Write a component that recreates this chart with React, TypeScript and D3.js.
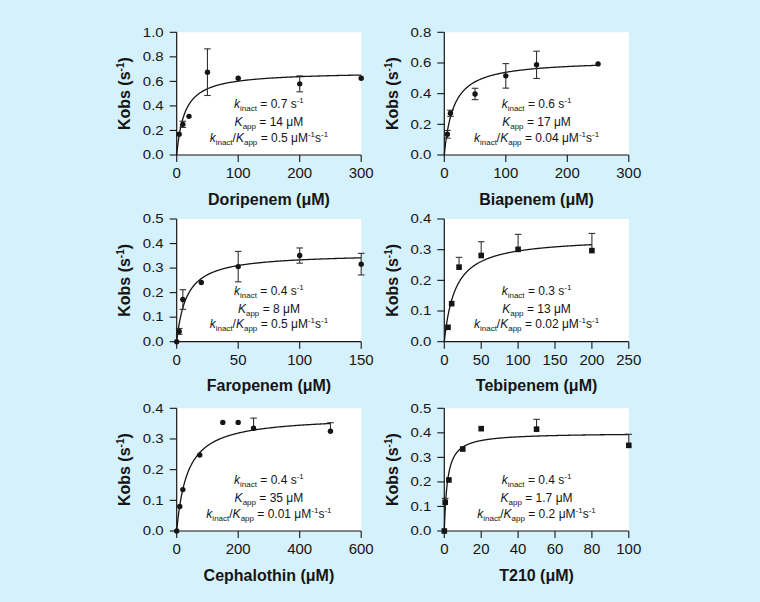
import React from "react";
import * as d3 from "d3";

// ---- data ----
const drugs = ["Doripenem", "Biapenem", "Faropenem", "Tebipenem", "Cephalothin", "T210"];

const doriX = [4, 10, 20, 50, 100, 200, 300];
const doriY = [0.17, 0.25, 0.315, 0.675, 0.625, 0.58, 0.625];
const doriErr = [0, 0.025, 0, 0.19, 0, 0.065, 0];

const biaX = [5, 10, 50, 100, 150, 250];
const biaY = [0.135, 0.272, 0.398, 0.516, 0.588, 0.594];
const biaErr = [0.025, 0.02, 0.037, 0.08, 0.089, 0];

const faroX = [0, 2, 5, 20, 50, 100, 150];
const faroY = [0, 0.042, 0.172, 0.241, 0.306, 0.351, 0.316];
const faroErr = [0, 0.012, 0.04, 0, 0.062, 0.031, 0.044];

const tebiX = [5, 10, 20, 50, 100, 200];
const tebiY = [0.047, 0.124, 0.243, 0.281, 0.301, 0.297];
const tebiErr = [0, 0, 0.032, 0.045, 0.049, 0.056];

const cephX = [0, 10, 20, 75, 150, 200, 250, 500];
const cephY = [0, 0.08, 0.135, 0.248, 0.354, 0.354, 0.335, 0.325];
const cephErr = [0, 0, 0, 0, 0, 0, 0.033, 0.028];

const t210X = [0, 0.5, 2.5, 10, 20, 50, 100];
const t210Y = [0, 0.117, 0.208, 0.334, 0.417, 0.415, 0.349];
const t210Err = [0, 0.016, 0, 0, 0, 0.04, 0.045];

// fitted hyperbola parameters (kinact, Kapp) as drawn
const fitK = [0.68, 0.62, 0.36, 0.34, 0.375, 0.4];
const fitKapp = [13, 15, 8, 15, 35, 1.7];

// printed values
const kinactLbl = ["0.7", "0.6", "0.4", "0.3", "0.4", "0.4"];
const kappLbl = ["14", "17", "8", "13", "35", "1.7"];
const ratioLbl = ["0.5", "0.04", "0.5", "0.02", "0.01", "0.2"];

const xMaxes = [300, 300, 150, 250, 600, 100];
const xTickStep = [100, 100, 50, 50, 200, 20];
const yMaxes = [1.0, 0.8, 0.5, 0.4, 0.4, 0.5];
const yTickStep = [0.2, 0.2, 0.1, 0.1, 0.1, 0.1];

const markers = ["circle", "circle", "circle", "square", "circle", "square"];
const errSides = ["both", "both", "both", "up", "up", "up"];

const seriesX = [doriX, biaX, faroX, tebiX, cephX, t210X];
const seriesY = [doriY, biaY, faroY, tebiY, cephY, t210Y];
const seriesErr = [doriErr, biaErr, faroErr, tebiErr, cephErr, t210Err];

// ---- layout ----
const W = 760, H = 602;
const colX = [176.7, 444.3];
const rowTop = [32.3, 219, 408.3];
const pw = 184.5, ph = 122.7;
const FONT = "'Liberation Sans', Arial, Helvetica, sans-serif";
const INK = "#151515";

function Panel({ i }: { i: number }) {
  const left = colX[i % 2];
  const top = rowTop[Math.floor(i / 2)];
  const x = d3.scaleLinear().domain([0, xMaxes[i]]).range([left, left + pw]);
  const y = d3.scaleLinear().domain([0, yMaxes[i]]).range([top + ph, top]);
  const xTicks = d3.range(0, xMaxes[i] + 1e-9, xTickStep[i]);
  const yTicks = d3.range(0, yMaxes[i] + 1e-9, yTickStep[i]);
  const bottom = top + ph;

  const xs = seriesX[i], ys = seriesY[i], es = seriesErr[i];
  const lastX = d3.max(xs) as number;
  const fit = d3.range(0, 301).map(k => {
    const c = lastX * Math.pow(k / 300, 2);
    return [c, (fitK[i] * c) / (fitKapp[i] + c)] as [number, number];
  });
  const line = d3.line<[number, number]>().x(d => x(d[0])).y(d => y(d[1]));

  const cx = left + pw / 2;
  const cap = 3.3;
  const tickFmt = d3.format(".1f");

  return (
    <g>
      <rect x={left} y={top} width={pw} height={ph} fill="#fff" />
      <path d={line(fit) || ""} fill="none" stroke={INK} strokeWidth={1.3} />
      {xs.map((xv, j) => {
        const e = es[j];
        if (!e) return null;
        const px = x(xv);
        const y1 = y(ys[j] + e);
        const y0 = errSides[i] === "both" ? y(ys[j] - e) : y(ys[j]);
        return (
          <g key={"e" + j} stroke="#333" strokeWidth={1.1}>
            <line x1={px} x2={px} y1={y0} y2={y1} />
            <line x1={px - cap} x2={px + cap} y1={y1} y2={y1} />
            {errSides[i] === "both" && <line x1={px - cap} x2={px + cap} y1={y0} y2={y0} />}
          </g>
        );
      })}
      {xs.map((xv, j) =>
        markers[i] === "circle" ? (
          <circle key={"m" + j} cx={x(xv)} cy={y(ys[j])} r={2.7} fill={INK} />
        ) : (
          <rect key={"m" + j} x={x(xv) - 2.8} y={y(ys[j]) - 2.8} width={5.6} height={5.6} fill={INK} />
        )
      )}
      {/* axes */}
      <line x1={left} x2={left} y1={top} y2={bottom} stroke={INK} strokeWidth={1.2} />
      <line x1={left} x2={left + pw} y1={bottom} y2={bottom} stroke={INK} strokeWidth={1.2} />
      {yTicks.map(t => (
        <g key={"yt" + t}>
          <line x1={left - 7} x2={left} y1={y(t)} y2={y(t)} stroke={INK} strokeWidth={1.1} />
          <text
            transform={`translate(${left - 13},${y(t) + 4.2}) scale(1,0.8)`}
            textAnchor="end"
            fontSize={15}
            fontFamily={FONT}
            fill={INK}
          >
            {tickFmt(t)}
          </text>
        </g>
      ))}
      {xTicks.map(t => (
        <g key={"xt" + t}>
          <line x1={x(t)} x2={x(t)} y1={bottom} y2={bottom + 7} stroke={INK} strokeWidth={1.1} />
          <text x={x(t)} y={bottom + 23.3} textAnchor="middle" fontSize={15} fontFamily={FONT} fill={INK}>
            {t}
          </text>
        </g>
      ))}
      {/* titles */}
      <text x={cx} y={bottom + 49.5} textAnchor="middle" fontSize={16} fontWeight="bold" fontFamily={FONT} fill={INK}>
        {drugs[i]} (μM)
      </text>
      <text
        transform={`translate(${left - 46.5},${top + ph / 2}) rotate(-90)`}
        textAnchor="middle"
        fontSize={16}
        fontWeight="bold"
        fontFamily={FONT}
        fill={INK}
      >
        Kobs (s<tspan fontSize={10} dy={-6}>-1</tspan>
        <tspan dy={6}>)</tspan>
      </text>
      {/* fit parameters */}
      <g fontFamily={FONT} fontSize={12} fill={INK} textAnchor="middle">
        <text x={cx} y={bottom - 46.7}>
          <tspan fontStyle="italic">k</tspan>
          <tspan fontSize={8} dy={3}>inact</tspan>
          <tspan dy={-3}> = {kinactLbl[i]} s</tspan>
          <tspan fontSize={8} dy={-5}>-1</tspan>
        </text>
        <text x={cx} y={bottom - 29.2}>
          <tspan fontStyle="italic">K</tspan>
          <tspan fontSize={8} dy={3}>app</tspan>
          <tspan dy={-3}> = {kappLbl[i]} μM</tspan>
        </text>
        <text x={cx} y={bottom - 13.4}>
          <tspan fontStyle="italic">k</tspan>
          <tspan fontSize={8} dy={3}>inact</tspan>
          <tspan dy={-3}>/</tspan>
          <tspan fontStyle="italic">K</tspan>
          <tspan fontSize={8} dy={3}>app</tspan>
          <tspan dy={-3}>{"  "}= {ratioLbl[i]} μM</tspan>
          <tspan fontSize={8} dy={-5}>-1</tspan>
          <tspan dy={5}>s</tspan>
          <tspan fontSize={8} dy={-5}>-1</tspan>
        </text>
      </g>
    </g>
  );
}

export default function App() {
  return (
    <svg
      width={W}
      height={H}
      viewBox={`0 0 ${W} ${H}`}
      style={{ position: "absolute", left: 0, top: 0, display: "block" }}
    >
      <rect x={0} y={0} width={W} height={H} fill="#d5f1fb" />
      {drugs.map((_, i) => (
        <Panel key={i} i={i} />
      ))}
    </svg>
  );
}
